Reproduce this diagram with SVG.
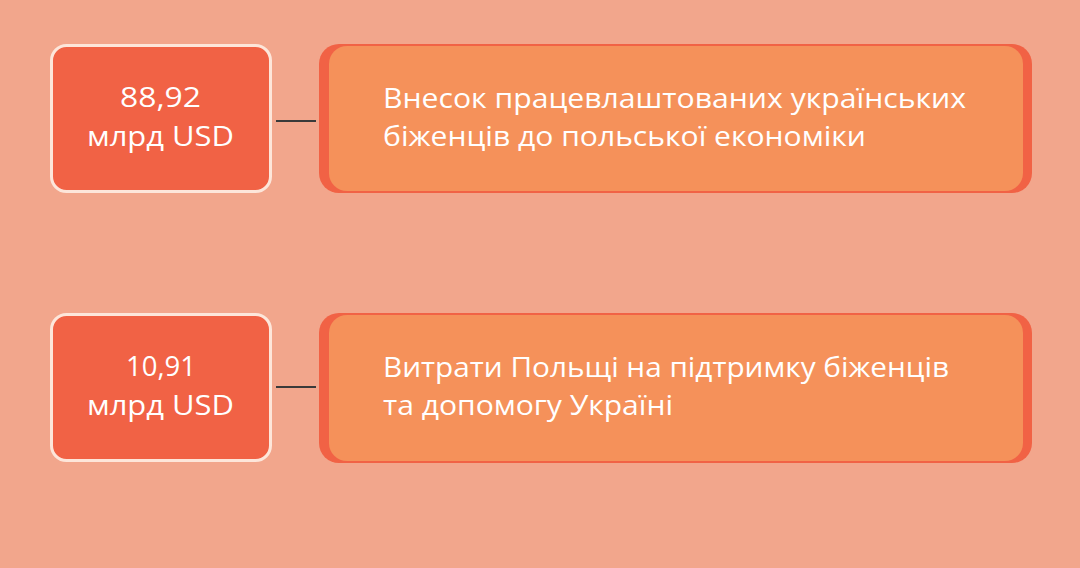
<svg xmlns="http://www.w3.org/2000/svg" width="1080" height="568" viewBox="0 0 1080 568">
<style>
.bg{fill:#f2a68c}
.val{fill:#f16245;stroke:#fde6da;stroke-width:3}
.outer{fill:#f16245}
.inner{fill:#f5915a}
.conn{stroke:#3a3a3a;stroke-width:2;fill:none}
.t{font-family:"Open Sans",Roboto,sans-serif;fill:#ffffff}
.vt{font-size:27px;text-anchor:middle}
.lt{font-size:28px}
</style>
<rect class="bg" x="0" y="0" width="1080" height="568"/>
<g id="connectors">
<line class="conn" x1="276" y1="121" x2="316" y2="121"/>
<line class="conn" x1="276" y1="387" x2="316" y2="387"/>
</g>
<g id="value1">
<rect class="val" x="51.5" y="45.5" width="219" height="146" rx="15"/>
<text class="t vt" x="160.5" y="107" textLength="81" lengthAdjust="spacingAndGlyphs">88,92</text>
<text class="t vt" x="160.5" y="146" textLength="147" lengthAdjust="spacingAndGlyphs">млрд USD</text>
</g>
<g id="label1">
<rect class="outer" x="319" y="44" width="713" height="149" rx="20"/>
<rect class="inner" x="329" y="46" width="694" height="145" rx="18"/>
<text class="t lt" x="383" y="108" textLength="583" lengthAdjust="spacingAndGlyphs">Внесок працевлаштованих українських</text>
<text class="t lt" x="383" y="146" textLength="483" lengthAdjust="spacingAndGlyphs">біженців до польської економіки</text>
</g>
<g id="value2">
<rect class="val" x="51.5" y="314.5" width="219" height="146" rx="15"/>
<text class="t vt" x="161" y="376" textLength="70" lengthAdjust="spacingAndGlyphs">10,91</text>
<text class="t vt" x="160.5" y="415" textLength="147" lengthAdjust="spacingAndGlyphs">млрд USD</text>
</g>
<g id="label2">
<rect class="outer" x="319" y="313" width="713" height="150" rx="20"/>
<rect class="inner" x="329" y="315" width="694" height="146" rx="18"/>
<text class="t lt" x="383" y="377" textLength="566" lengthAdjust="spacingAndGlyphs">Витрати Польщі на підтримку біженців</text>
<text class="t lt" x="383" y="415" textLength="290" lengthAdjust="spacingAndGlyphs">та допомогу Україні</text>
</g>
</svg>
